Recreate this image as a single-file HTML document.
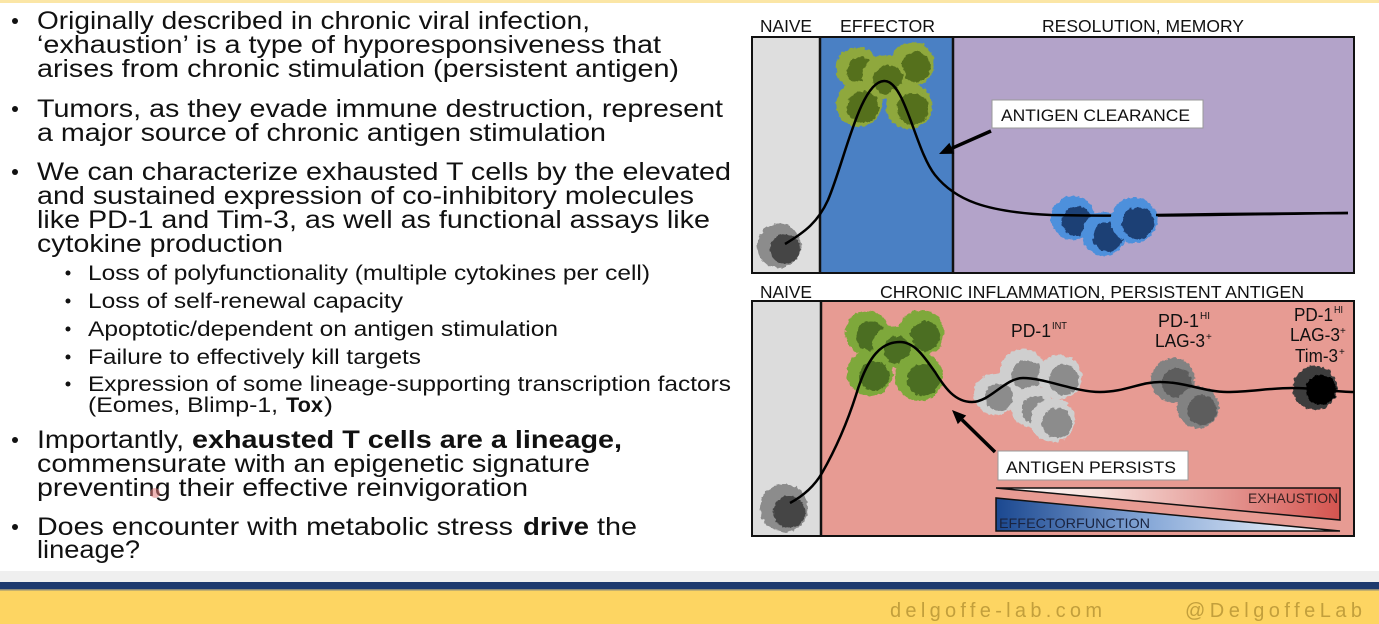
<!DOCTYPE html>
<html><head><meta charset="utf-8"><style>
html,body{margin:0;padding:0;background:#fff;}
svg{display:block;}
text{font-family:"Liberation Sans",Arial,sans-serif;}
</style></head><body>
<svg width="1379" height="624" viewBox="0 0 1379 624" xmlns="http://www.w3.org/2000/svg">
<defs>
<filter id="rough" x="-20%" y="-20%" width="140%" height="140%">
<feTurbulence type="fractalNoise" baseFrequency="0.22" numOctaves="2" seed="4" result="n"/>
<feDisplacementMap in="SourceGraphic" in2="n" scale="5" xChannelSelector="R" yChannelSelector="G"/>
</filter>
<linearGradient id="gEx" x1="996" y1="0" x2="1340" y2="0" gradientUnits="userSpaceOnUse">
<stop offset="0" stop-color="#ffffff"/><stop offset="0.3" stop-color="#f6e0dc"/><stop offset="1" stop-color="#d4544f"/>
</linearGradient>
<linearGradient id="gEf" x1="996" y1="0" x2="1340" y2="0" gradientUnits="userSpaceOnUse">
<stop offset="0" stop-color="#1b4890"/><stop offset="0.45" stop-color="#88a9d8"/><stop offset="1" stop-color="#ffffff"/>
</linearGradient>
</defs>
<rect width="1379" height="624" fill="#fff"/>
<rect x="0" y="0" width="1379" height="3" fill="#fbe6a6"/>

<!-- LEFT TEXT -->
<g fill="#111">
<circle cx="15" cy="21" r="3"/>
<text x="37" y="29" font-size="25" textLength="553" lengthAdjust="spacingAndGlyphs">Originally described in chronic viral infection,</text>
<text x="37" y="53" font-size="25" textLength="624" lengthAdjust="spacingAndGlyphs">‘exhaustion’ is a type of hyporesponsiveness that</text>
<text x="37" y="77" font-size="25" textLength="642" lengthAdjust="spacingAndGlyphs">arises from chronic stimulation (persistent antigen)</text>
<circle cx="15" cy="109" r="3"/>
<text x="37" y="117" font-size="25" textLength="686" lengthAdjust="spacingAndGlyphs">Tumors, as they evade immune destruction, represent</text>
<text x="37" y="141" font-size="25" textLength="569" lengthAdjust="spacingAndGlyphs">a major source of chronic antigen stimulation</text>
<circle cx="15" cy="172" r="3"/>
<text x="37" y="180" font-size="25" textLength="694" lengthAdjust="spacingAndGlyphs">We can characterize exhausted T cells by the elevated</text>
<text x="37" y="204" font-size="25" textLength="657" lengthAdjust="spacingAndGlyphs">and sustained expression of co-inhibitory molecules</text>
<text x="37" y="228" font-size="25" textLength="673" lengthAdjust="spacingAndGlyphs">like PD-1 and Tim-3, as well as functional assays like</text>
<text x="37" y="252" font-size="25" textLength="246" lengthAdjust="spacingAndGlyphs">cytokine production</text>

<circle cx="68" cy="273" r="2.5"/>
<text x="88" y="280" font-size="21.5" textLength="562" lengthAdjust="spacingAndGlyphs">Loss of polyfunctionality (multiple cytokines per cell)</text>
<circle cx="68" cy="301" r="2.5"/>
<text x="88" y="308" font-size="21.5" textLength="315" lengthAdjust="spacingAndGlyphs">Loss of self-renewal capacity</text>
<circle cx="68" cy="329" r="2.5"/>
<text x="88" y="336" font-size="21.5" textLength="470" lengthAdjust="spacingAndGlyphs">Apoptotic/dependent on antigen stimulation</text>
<circle cx="68" cy="357" r="2.5"/>
<text x="88" y="364" font-size="21.5" textLength="333" lengthAdjust="spacingAndGlyphs">Failure to effectively kill targets</text>
<circle cx="68" cy="384" r="2.5"/>
<text x="88" y="391" font-size="21.5" textLength="643" lengthAdjust="spacingAndGlyphs">Expression of some lineage-supporting transcription factors</text>
<text x="88" y="412" font-size="21.5" textLength="190" lengthAdjust="spacingAndGlyphs">(Eomes, Blimp-1,</text>
<text x="286" y="412" font-size="21.5" font-weight="bold" textLength="37" lengthAdjust="spacingAndGlyphs">Tox</text>
<text x="324" y="412" font-size="21.5" textLength="9" lengthAdjust="spacingAndGlyphs">)</text>

<circle cx="15" cy="440" r="3"/>
<text x="37" y="448" font-size="25" textLength="147" lengthAdjust="spacingAndGlyphs">Importantly,</text>
<text x="192" y="448" font-size="25" font-weight="bold" textLength="430" lengthAdjust="spacingAndGlyphs">exhausted T cells are a lineage,</text>
<text x="37" y="472" font-size="25" textLength="553" lengthAdjust="spacingAndGlyphs">commensurate with an epigenetic signature</text>
<text x="37" y="496" font-size="25" textLength="491" lengthAdjust="spacingAndGlyphs">preventing their effective reinvigoration</text>
<circle cx="15" cy="527" r="3"/>
<text x="37" y="535" font-size="25" textLength="476" lengthAdjust="spacingAndGlyphs">Does encounter with metabolic stress</text>
<text x="523" y="535" font-size="25" font-weight="bold" textLength="66" lengthAdjust="spacingAndGlyphs">drive</text>
<text x="597" y="535" font-size="25" textLength="40" lengthAdjust="spacingAndGlyphs">the</text>
<text x="37" y="558" font-size="25" textLength="103" lengthAdjust="spacingAndGlyphs">lineage?</text>
</g>
<circle cx="155" cy="493" r="5" fill="#e07a7a" opacity="0.55"/>

<!-- TOP PANEL -->
<g fill="#111" font-size="17.5">
<text x="760" y="32" textLength="52" lengthAdjust="spacingAndGlyphs">NAIVE</text>
<text x="840" y="32" textLength="95" lengthAdjust="spacingAndGlyphs">EFFECTOR</text>
<text x="1042" y="32" textLength="202" lengthAdjust="spacingAndGlyphs">RESOLUTION, MEMORY</text>
</g>
<rect x="752" y="37" width="68" height="236" fill="#dedede"/>
<rect x="820" y="37" width="133" height="236" fill="#4a80c4"/>
<rect x="953" y="37" width="401" height="236" fill="#b3a3c9"/>
<line x1="820" y1="37" x2="820" y2="273" stroke="#111" stroke-width="2.5"/>
<line x1="953" y1="37" x2="953" y2="273" stroke="#111" stroke-width="2.5"/>
<rect x="752" y="37" width="602" height="236" fill="none" stroke="#111" stroke-width="2"/>

<g filter="url(#rough)">
<circle cx="779" cy="246" r="22" fill="#8c8c8c"/>
<circle cx="785" cy="249" r="15" fill="#454545"/>
<circle cx="857" cy="68" r="21" fill="#8fa83e"/><circle cx="861" cy="71" r="14" fill="#55701f"/>
<circle cx="912" cy="64" r="22" fill="#8fa83e"/><circle cx="916" cy="67" r="15" fill="#55701f"/>
<circle cx="884" cy="77" r="22" fill="#8fa83e"/><circle cx="888" cy="80" r="15" fill="#55701f"/>
<circle cx="859" cy="104" r="23" fill="#8fa83e"/><circle cx="863" cy="107" r="16" fill="#55701f"/>
<circle cx="909" cy="106" r="23" fill="#8fa83e"/><circle cx="913" cy="109" r="16" fill="#55701f"/>
<circle cx="1073" cy="218" r="22" fill="#4d90dc"/><circle cx="1077" cy="221" r="15" fill="#1f3f75"/>
<circle cx="1104" cy="234" r="22" fill="#4d90dc"/><circle cx="1108" cy="237" r="15" fill="#1f3f75"/>
</g>
<path d="M785,244 C805,232 818,222 828,200 C845,160 860,82 884,81 C905,80 915,150 935,175 C955,200 985,212 1051,215 C1150,217 1250,214 1348,213" fill="none" stroke="#000" stroke-width="2.5"/>
<g filter="url(#rough)">
<circle cx="1134" cy="220" r="23" fill="#4d90dc"/><circle cx="1138" cy="223" r="16" fill="#1f3f75"/>
</g>
<path d="M1156,215 C1220,214 1290,213 1348,213" fill="none" stroke="#000" stroke-width="2.5"/>

<rect x="992" y="100" width="211" height="28" fill="#fff" stroke="#999" stroke-width="1"/>
<text x="1001" y="121" font-size="17" fill="#111" textLength="189" lengthAdjust="spacingAndGlyphs">ANTIGEN CLEARANCE</text>
<line x1="991" y1="131" x2="951.8" y2="148.3" stroke="#000" stroke-width="3.5"/>
<polygon points="939,154 954.2,153.8 949.4,142.8" fill="#000"/>

<!-- BOTTOM PANEL -->
<g fill="#111" font-size="17.5">
<text x="760" y="298" textLength="52" lengthAdjust="spacingAndGlyphs">NAIVE</text>
<text x="880" y="298" textLength="424" lengthAdjust="spacingAndGlyphs">CHRONIC INFLAMMATION, PERSISTENT ANTIGEN</text>
</g>
<rect x="752" y="301" width="69" height="235" fill="#dcdcdc"/>
<rect x="821" y="301" width="533" height="235" fill="#e79b93"/>
<line x1="821" y1="301" x2="821" y2="536" stroke="#111" stroke-width="2.5"/>
<rect x="752" y="301" width="602" height="235" fill="none" stroke="#111" stroke-width="2"/>

<g filter="url(#rough)">
<circle cx="784" cy="508" r="24" fill="#8c8c8c"/>
<circle cx="789" cy="512" r="16" fill="#454545"/>
<circle cx="867" cy="333" r="22" fill="#7ea83a"/><circle cx="871" cy="336" r="15" fill="#4b6e20"/>
<circle cx="921" cy="333" r="23" fill="#7ea83a"/><circle cx="925" cy="336" r="15" fill="#4b6e20"/>
<circle cx="893" cy="347" r="21" fill="#7ea83a"/><circle cx="897" cy="350" r="14" fill="#4b6e20"/>
<circle cx="870" cy="373" r="23" fill="#7ea83a"/><circle cx="874" cy="376" r="15" fill="#4b6e20"/>
<circle cx="919" cy="377" r="24" fill="#7ea83a"/><circle cx="923" cy="380" r="16" fill="#4b6e20"/>
<circle cx="1023" cy="372" r="23" fill="#cfcfcf"/><circle cx="1027" cy="375" r="15" fill="#8c8c8c"/>
<circle cx="1060" cy="377" r="22" fill="#cfcfcf"/><circle cx="1064" cy="380" r="15" fill="#8c8c8c"/>
<circle cx="995" cy="394" r="21" fill="#cfcfcf"/><circle cx="999" cy="397" r="14" fill="#8c8c8c"/>
<circle cx="1032" cy="407" r="21" fill="#cfcfcf"/><circle cx="1036" cy="410" r="14" fill="#8c8c8c"/>
<circle cx="1053" cy="420" r="22" fill="#cfcfcf"/><circle cx="1057" cy="423" r="15" fill="#8c8c8c"/>
<circle cx="1173" cy="380" r="22" fill="#828282"/><circle cx="1177" cy="383" r="15" fill="#5d5d5d"/>
<circle cx="1198" cy="407" r="21" fill="#828282"/><circle cx="1202" cy="410" r="15" fill="#5d5d5d"/>
<circle cx="1315" cy="388" r="22" fill="#3c3c3c"/><circle cx="1321" cy="390" r="15" fill="#050505"/>
</g>
<path d="M790,503 C805,495 815,485 822,473 C838,445 848,420 856,395 C868,355 882,342 900,342 C915,342 925,358 935,372 C945,388 955,402 972,402 C990,402 1005,378 1023,378 C1045,378 1075,392 1100,392 C1125,392 1140,382 1160,382 C1185,382 1205,392 1227,392 C1250,392 1270,388 1293,388 C1315,388 1335,392 1354,392" fill="none" stroke="#000" stroke-width="2.5"/>

<g fill="#111">
<text x="1011" y="337" font-size="18" textLength="40" lengthAdjust="spacingAndGlyphs">PD-1</text>
<text x="1052" y="329" font-size="10" textLength="15" lengthAdjust="spacingAndGlyphs">INT</text>
<text x="1158" y="327" font-size="18" textLength="41" lengthAdjust="spacingAndGlyphs">PD-1</text>
<text x="1200" y="319" font-size="10" textLength="10" lengthAdjust="spacingAndGlyphs">HI</text>
<text x="1155" y="347" font-size="18" textLength="50" lengthAdjust="spacingAndGlyphs">LAG-3</text>
<text x="1206" y="340" font-size="10">+</text>
<text x="1294" y="321" font-size="18" textLength="39" lengthAdjust="spacingAndGlyphs">PD-1</text>
<text x="1334" y="313" font-size="10" textLength="9" lengthAdjust="spacingAndGlyphs">HI</text>
<text x="1290" y="341" font-size="18" textLength="50" lengthAdjust="spacingAndGlyphs">LAG-3</text>
<text x="1340" y="334" font-size="10">+</text>
<text x="1295" y="362" font-size="18" textLength="43" lengthAdjust="spacingAndGlyphs">Tim-3</text>
<text x="1339" y="355" font-size="10">+</text>
</g>

<rect x="998" y="451" width="190" height="29" fill="#fff" stroke="#999" stroke-width="1"/>
<text x="1006" y="473" font-size="17" fill="#111" textLength="170" lengthAdjust="spacingAndGlyphs">ANTIGEN PERSISTS</text>
<line x1="995" y1="452" x2="962" y2="419.8" stroke="#000" stroke-width="3.5"/>
<polygon points="952,410 966.2,415.5 957.8,424.1" fill="#000"/>

<polygon points="996,488 1340,488 1340,520" fill="url(#gEx)" stroke="#111" stroke-width="1.5"/>
<polygon points="996,498 996,531 1340,531" fill="url(#gEf)" stroke="#111" stroke-width="1.5"/>
<text x="1248" y="503" font-size="14" fill="#3a2222" textLength="90" lengthAdjust="spacingAndGlyphs">EXHAUSTION</text>
<text x="999" y="528" font-size="14" fill="#1a2440" textLength="151" lengthAdjust="spacingAndGlyphs">EFFECTORFUNCTION</text>

<!-- FOOTER -->
<rect x="0" y="571" width="1379" height="12" fill="#efefef"/>
<rect x="0" y="582" width="1379" height="7" fill="#1d3a6e"/>
<rect x="0" y="589" width="1379" height="1.5" fill="#8c8a78"/>
<rect x="0" y="590.5" width="1379" height="34" fill="#fdd562"/>
<text x="890" y="617" font-size="20" fill="#c29f3c" textLength="212" lengthAdjust="spacing">delgoffe-lab.com</text>
<text x="1185" y="617" font-size="20" fill="#c29f3c" textLength="177" lengthAdjust="spacing">@DelgoffeLab</text>
</svg>
</body></html>
